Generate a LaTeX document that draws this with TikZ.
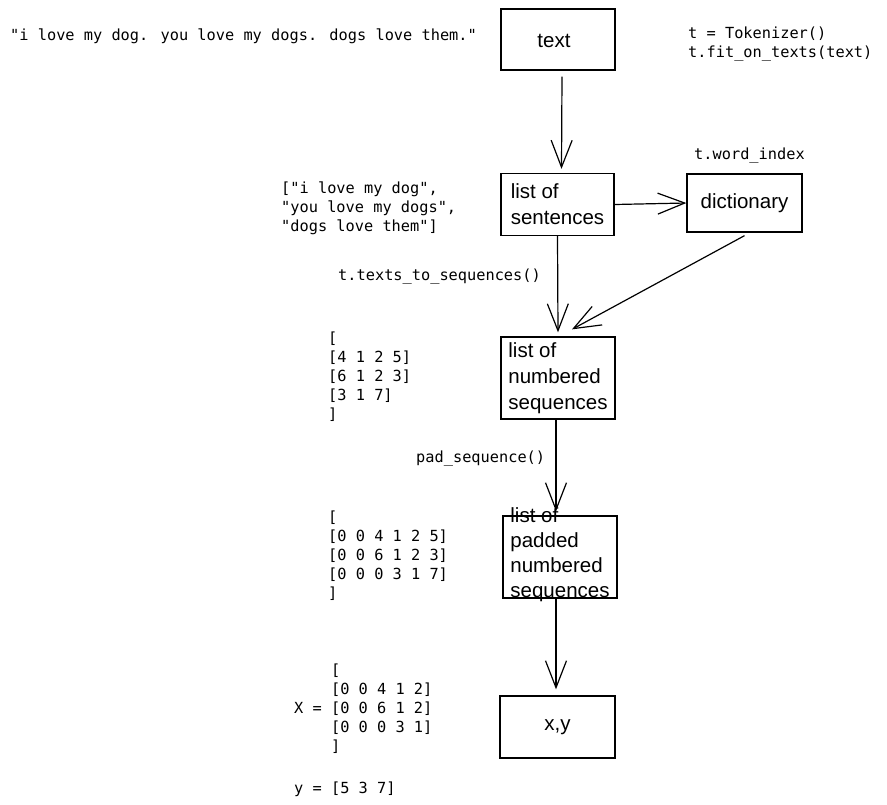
\documentclass[tikz,border=0pt]{standalone}
\usepackage{fontspec}
\setmainfont{Liberation Sans}
\newfontfamily\monofont{DejaVu Sans Mono}
\usetikzlibrary{arrows.meta}
\tikzset{
  box/.style={draw=black, line width=1.3pt, rectangle, inner sep=0pt},
  lbl/.style={font=\fontsize{20.5}{26}\selectfont, align=left, inner sep=0pt},
  code/.style={font=\monofont\fontsize{15.3}{19}\selectfont, align=left, inner sep=0pt, anchor=base west},
  arr/.style={draw=black, line width=1.2pt, -{Straight Barb[length=27pt,width=21pt,line width=1.2pt]}}
}
\begin{document}
\begin{tikzpicture}[x=1pt,y=-1pt]
\useasboundingbox[fill=white] (0,0) rectangle (887,804);

% boxes
\node[box, minimum width=114pt, minimum height=61pt] (text) at (558,39.5) {};
\node[lbl] (textlbl) at (554,41) {text};
\node[box, minimum width=113pt, minimum height=62pt] (sent) at (557.5,204.5) {};
\node[lbl] (sentlbl) at (sent.center) {list of\\sentences};
\node[box, minimum width=115pt, minimum height=58pt] (dict) at (744.5,203) {};
\node[lbl] (dictlbl) at (dict.center) {dictionary};
\node[box, minimum width=114pt, minimum height=82pt] (num) at (558,378) {};
\node[lbl] (numlbl) at (num.center) {list of\\numbered\\sequences};
\node[box, minimum width=114pt, minimum height=82pt] (pad) at (560,557) {};
\node[lbl, font=\fontsize{20.5}{25}\selectfont] (padlbl) at ([yshift=2pt]pad.center) {list of\\padded\\numbered\\sequences};
\node[box, minimum width=115pt, minimum height=62pt] (xy) at (557.5,727) {};
\node[lbl] (xylbl) at (xy.center) {x,y};

% code texts (base anchor = baseline of last line)
\node[code] (quote) at (10,40) {"i love my dog. you love my dogs. dogs love them."};
\node[code] (tok) at (688,57) {t = Tokenizer()\\t.fit\_on\_texts(text)};
\node[code] (widx) at (694,159) {t.word\_index};
\node[code] (slist) at (281,231) {["i love my dog",\\"you love my dogs",\\"dogs love them"]};
\node[code] (t2s) at (338,280) {t.texts\_to\_sequences()};
\node[code] (nmat) at (328,419) {[\\{}[4 1 2 5]\\{}[6 1 2 3]\\{}[3 1 7]\\]};
\node[code] (padf) at (416,462) {pad\_sequence()};
\node[code] (pmat) at (328,598) {[\\{}[0 0 4 1 2 5]\\{}[0 0 6 1 2 3]\\{}[0 0 0 3 1 7]\\]};
\node[code] (xmat) at (294,751) {\phantom{X = }[\\\phantom{X = }[0 0 4 1 2]\\X = [0 0 6 1 2]\\\phantom{X = }[0 0 0 3 1]\\\phantom{X = }]};
\node[code] (yvec) at (294,793) {y = [5 3 7]};

% connectors
\draw[arr] ([xshift=4pt,yshift=-6pt]text.south) -- ([xshift=4pt,yshift=4pt]sent.north);
\draw[arr] (sent.east) -- (dict.west);
\draw[arr] (sent.south) -- ([xshift=0pt,yshift=4pt]num.north);
\draw[arr] ([xshift=0pt,yshift=-3pt]dict.south) -- ([xshift=14pt,yshift=7pt]num.north);
\draw[arr] ([xshift=-2pt]num.south) -- ([xshift=-4pt,yshift=4pt]pad.north);
\draw[arr] ([xshift=-4pt]pad.south) -- ([xshift=-1.5pt,yshift=6pt]xy.north);
\end{tikzpicture}
\end{document}
